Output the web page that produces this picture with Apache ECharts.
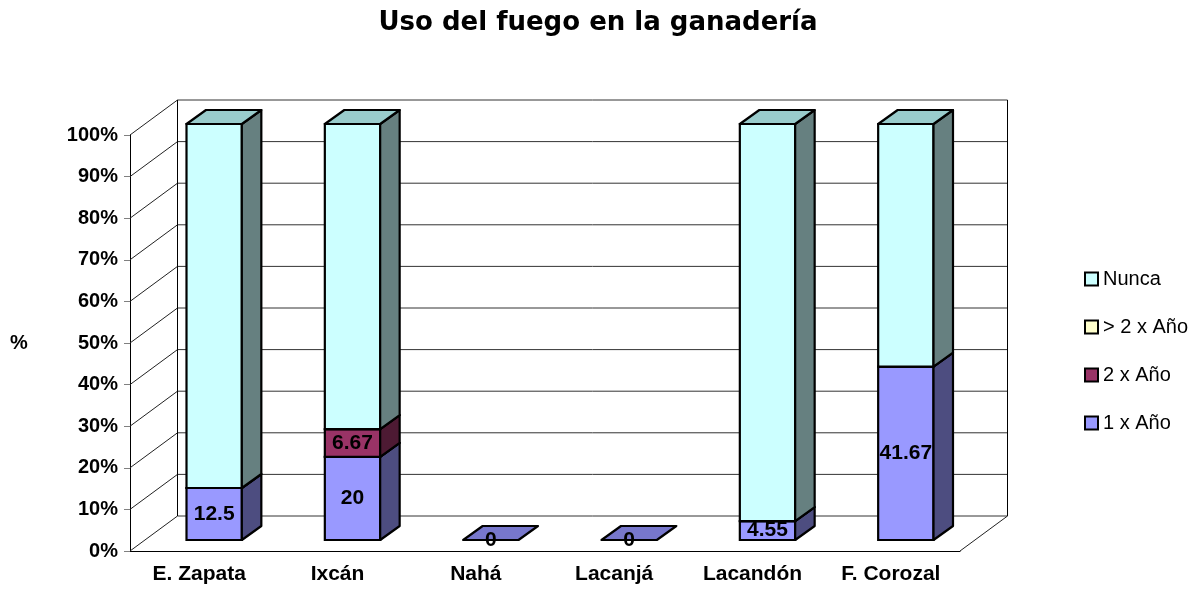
<!DOCTYPE html>
<html>
<head>
<meta charset="utf-8">
<script src="https://cdn.jsdelivr.net/npm/echarts@6/dist/echarts.min.js"></script>
<style>
html, body { margin: 0; padding: 0; background: #fff; }
#main { width: 1196px; height: 590px; }
</style>
</head>
<body>
<div id="main"></div>
<script>
// datos (porcentaje de productores por localidad)
var categories = ['E. Zapata', 'Ixcán', 'Nahá', 'Lacanjá', 'Lacandón', 'F. Corozal'];
var unoXAno = [12.5, 20, 0, 0, 4.55, 41.67];
var dosXAno = [null, 6.67, null, null, null, null];
var masDosXAno = [null, null, null, null, null, null];
var nunca = [87.5, 73.33, null, null, 95.45, 58.33];
var yTicks = [0, 10, 20, 30, 40, 50, 60, 70, 80, 90, 100];
var legendOrder = ['Nunca', '> 2 x Año', '2 x Año', '1 x Año'];

// geometria del efecto 3D
var WALL_DEPTH = [47.5, -35];
var BAR_OFF = [15, -11];
var BAR_DEPTH = [19.5, -14];
var BAR_RATIO = 0.4;

var stackDefs = [
    {name: '1 x Año', values: unoXAno, label: true, front: '#9999FF', side: '#4D4D80', top: '#7777CC'},
    {name: '2 x Año', values: dosXAno, label: true, front: '#993366', side: '#4D1A33', top: '#7A2952'},
    {name: '> 2 x Año', values: masDosXAno, label: false, front: '#FFFFCC', side: '#808066', top: '#CCCCA3'},
    {name: 'Nunca', values: nunca, label: false, front: '#CCFFFF', side: '#668080', top: '#99CCCC'}
];

function barRenderer(def) {
    return function (params, api) {
        var ci = api.value(0), lo = api.value(1), hi = api.value(2), v = api.value(3);
        var bw = api.size([1, 0])[0] * BAR_RATIO;
        var pLo = api.coord([ci, lo]), pHi = api.coord([ci, hi]);
        var x0 = pLo[0] - bw / 2 + BAR_OFF[0], x1 = x0 + bw;
        var yb = pLo[1] + BAR_OFF[1], yt = pHi[1] + BAR_OFF[1];
        var dx = BAR_DEPTH[0], dy = BAR_DEPTH[1];
        var children = [];
        if (yb - yt > 0.5) {
            children.push({
                type: 'rect',
                shape: {x: x0, y: yt, width: bw, height: yb - yt},
                style: {fill: def.front, stroke: '#000', lineWidth: 2.2}
            });
            children.push({
                type: 'polygon',
                shape: {points: [[x1, yb], [x1 + dx, yb + dy], [x1 + dx, yt + dy], [x1, yt]]},
                style: {fill: def.side, stroke: '#000', lineWidth: 2.2, lineJoin: 'round'}
            });
        }
        children.push({
            type: 'polygon',
            shape: {points: [[x0, yt], [x1, yt], [x1 + dx, yt + dy], [x0 + dx, yt + dy]]},
            style: {fill: def.top, stroke: '#000', lineWidth: 2.2, lineJoin: 'round'}
        });
        if (def.label) {
            children.push({
                type: 'text',
                style: {
                    text: String(v), x: (x0 + x1) / 2, y: (yb + yt) / 2,
                    align: 'center', verticalAlign: 'middle',
                    font: 'bold 21px "Liberation Sans", Arial, sans-serif', fill: '#000'
                }
            });
        }
        return {type: 'group', children: children};
    };
}

function renderWalls(params, api) {
    var cs = params.coordSys;
    var gx0 = cs.x, gx1 = cs.x + cs.width;
    var dx = WALL_DEPTH[0], dy = WALL_DEPTH[1];
    var yTop = api.coord([0, yTicks[yTicks.length - 1]])[1];
    var yBot = api.coord([0, yTicks[0]])[1];
    var children = [{
        type: 'rect',
        shape: {x: gx0 + dx, y: yTop + dy, width: gx1 - gx0, height: yBot - yTop},
        style: {fill: '#fff'}
    }];
    yTicks.forEach(function (t) {
        var y = api.coord([0, t])[1];
        children.push({type: 'line', shape: {x1: gx0 + dx, y1: y + dy, x2: gx1 + dx, y2: y + dy},
            style: {stroke: '#333', lineWidth: 1}});
        children.push({type: 'line', shape: {x1: gx0, y1: y, x2: gx0 + dx, y2: y + dy},
            style: {stroke: '#222', lineWidth: 1}});
    });
    children.push({type: 'line', shape: {x1: gx0 + dx, y1: yTop + dy, x2: gx0 + dx, y2: yBot + dy},
        style: {stroke: '#000', lineWidth: 1}});
    children.push({type: 'line', shape: {x1: gx1 + dx, y1: yTop + dy, x2: gx1 + dx, y2: yBot + dy},
        style: {stroke: '#000', lineWidth: 1}});
    children.push({type: 'line', shape: {x1: gx1, y1: yBot, x2: gx1 + dx, y2: yBot + dy},
        style: {stroke: '#222', lineWidth: 1}});
    return {type: 'group', children: children};
}

// armar las series apiladas (100%)
var base = categories.map(function () { return 0; });
var series = [{
    name: 'walls', type: 'custom', silent: true, z: 1,
    renderItem: renderWalls, data: [[0, 0]], encode: {x: 0, y: 1}
}];
stackDefs.forEach(function (def, k) {
    var data = [];
    def.values.forEach(function (v, i) {
        if (v === null) return;
        data.push([i, base[i], base[i] + v, v]);
        base[i] += v;
    });
    series.push({
        name: def.name, type: 'custom', z: 2 + k,
        itemStyle: {color: def.front},
        renderItem: barRenderer(def),
        encode: {x: 0, y: [1, 2]},
        data: data
    });
});

var myChart = echarts.init(document.getElementById('main'));
var option = {
    animation: false,
    backgroundColor: '#fff',
    title: {
        text: 'Uso del fuego en la ganadería',
        left: 'center',
        top: 5,
        textStyle: {fontFamily: 'DejaVu Sans', fontSize: 26, fontWeight: 'bold', color: '#000'}
    },
    legend: {
        data: legendOrder,
        orient: 'vertical',
        left: 1079,
        top: 264,
        itemWidth: 13,
        itemHeight: 13,
        itemGap: 28,
        icon: 'rect',
        itemStyle: {borderColor: '#000', borderWidth: 2},
        textStyle: {fontFamily: 'Liberation Sans', fontSize: 20, lineHeight: 20, color: '#000'}
    },
    grid: {left: 130, top: 135, width: 830, height: 416},
    xAxis: {
        type: 'category',
        data: categories,
        axisLine: {lineStyle: {color: '#000', width: 1}},
        axisTick: {lineStyle: {color: '#808080'}, length: 6},
        axisLabel: {fontFamily: 'Liberation Sans', fontSize: 21, fontWeight: 'bold', color: '#000', margin: 13}
    },
    yAxis: {
        type: 'value',
        min: 0, max: 100, interval: 10,
        name: '%',
        nameLocation: 'middle',
        nameRotate: 0,
        nameGap: 111,
        nameTextStyle: {fontFamily: 'Liberation Sans', fontSize: 20, fontWeight: 'bold', color: '#000', align: 'center'},
        axisLine: {show: true, lineStyle: {color: '#000', width: 1}},
        axisTick: {show: true, length: 6, lineStyle: {color: '#808080'}},
        splitLine: {show: false},
        axisLabel: {formatter: '{value}%', fontFamily: 'Liberation Sans', fontSize: 20, fontWeight: 'bold', color: '#000', margin: 12}
    },
    series: series
};
myChart.setOption(option);
</script>
</body>
</html>
